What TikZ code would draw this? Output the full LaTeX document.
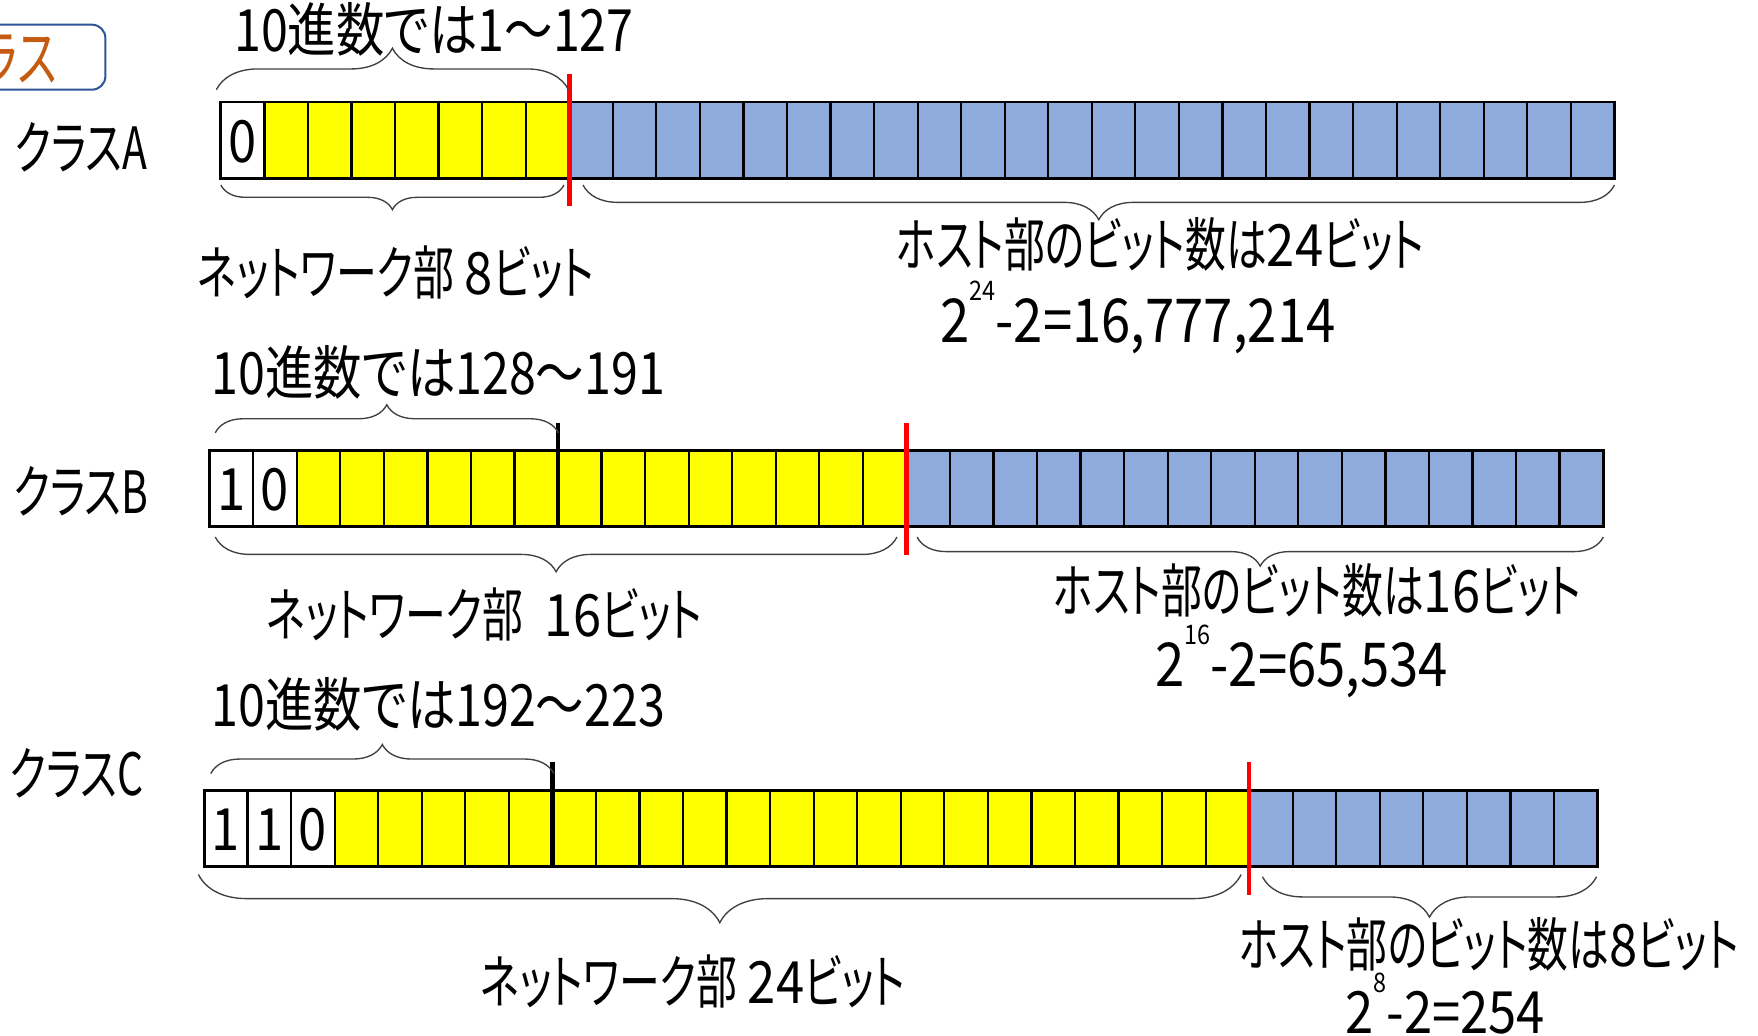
\documentclass[tikz,border=0pt]{standalone}
\usepackage{fontspec}
\setmainfont{Noto Sans CJK JP}[FakeStretch=0.83,RawFeature=+palt]
\newfontfamily\kfont{Noto Sans CJK JP}[FakeStretch=0.70,RawFeature=+palt]
\newfontfamily\dfont{Noto Sans CJK JP}[FakeStretch=0.87]
\usetikzlibrary{decorations.pathreplacing}
\definecolor{hostblue}{HTML}{8FAADC}
\definecolor{netyellow}{HTML}{FFFF00}
\definecolor{boxblue}{HTML}{2F5597}
\definecolor{tagorange}{HTML}{C55A11}
\newcommand\bitrow[5]{%
  \foreach \i in {0,...,31}{%
    \ifnum\i<#4 \def\cc{white}\else\ifnum\i<#5 \def\cc{netyellow}\else\def\cc{hostblue}\fi\fi
    \draw[line width=1pt, fill=\cc] ({#1+\i*38.84},#2) rectangle ({#1+(\i+1)*38.84},#3);
  }
  \draw[line width=1.3pt] (#1,#2) rectangle ({#1+32*38.84},#3);
}
\newcommand\supnum[1]{\raisebox{0.7em}{\dfont\fontsize{12}{12}\selectfont #1}}
\newcommand\kt[1]{{\kfont #1}}
\newcommand\dg[1]{{\dfont #1}}
\tikzset{
  lbl/.style={font=\fontsize{26}{30}\selectfont, inner sep=0pt, anchor=center},
  cnt/.style={font=\dfont\fontsize{27}{30}\selectfont, inner sep=0pt, anchor=center},
  bit/.style={font=\dfont\fontsize{26}{30}\selectfont, inner sep=0pt, anchor=center},
  brc/.style={decorate, decoration={brace, amplitude=#1}, draw=black!75, line width=0.6pt},
  redsep/.style={draw=red, line width=2pt},
  blksep/.style={draw=black, line width=2pt}
}
\begin{document}
\begin{tikzpicture}[x=0.5pt, y=-0.5pt]
\useasboundingbox (0,0) rectangle (1568,924);
\clip (0,0) rectangle (1568,924);
\fill[white] (0,0) rectangle (1568,924);

% title tag (cut off at the left edge, as in the reference)
\draw[boxblue, line width=0.9pt, rounded corners=6pt, fill=white] (-40,22) rectangle (94,80);
\node[lbl, anchor=east, text=tagorange, font=\kfont\fontsize{28}{30}\selectfont] (tag) at (51,51) {クラス};

% ===== Class A =====
\node[lbl, font=\kfont\fontsize{26}{30}\selectfont] (clsA) at (72,131) {クラスA};
\bitrow{197}{91}{159}{1}{8}
\node[bit] (a0) at (216.4,126) {0};
\draw[redsep] (508,66) -- (508,184);
\coordinate (aTL) at (193,80); \coordinate (aTR) at (507,80);
\draw[brc=18.5pt] (aTL) -- (aTR);
\coordinate (aNL) at (197,165); \coordinate (aNR) at (503,165);
\draw[brc=11pt] (aNR) -- (aNL);
\coordinate (aHL) at (520,165); \coordinate (aHR) at (1440,165);
\draw[brc=15.5pt] (aHR) -- (aHL);
\node[lbl] (aDec) at (387,26) {10進数では1～127};
\node[lbl] (aNet) at (353,243) {\kt{ネットワーク部} \dg{8}\kt{ビット}};
\node[lbl] (aHost) at (1035,218) {\kt{ホスト部のビット数は}\dg{24}\kt{ビット}};
\node[cnt] (aCnt) at (1015,283) {2\supnum{24}-2=16,777,214};

% ===== Class B =====
\node[lbl, font=\kfont\fontsize{26}{30}\selectfont] (clsB) at (72,438) {クラスB};
\bitrow{187}{402}{470}{2}{16}
\node[bit] (b0) at (206.4,437) {1};
\node[bit] (b1) at (245.3,437) {0};
\draw[blksep] (497.7,377) -- (497.7,470);
\draw[redsep] (808.4,377) -- (808.4,495);
\coordinate (bTL) at (192,386); \coordinate (bTR) at (498,386);
\draw[brc=12.5pt] (bTL) -- (bTR);
\coordinate (bNL) at (192,479); \coordinate (bNR) at (800,479);
\draw[brc=15.5pt] (bNR) -- (bNL);
\coordinate (bHL) at (818,479); \coordinate (bHR) at (1430,479);
\draw[brc=13pt] (bHR) -- (bHL);
\node[lbl] (bDec) at (391,332) {10進数では128～191};
\node[lbl] (bNet) at (432,548) {\kt{ネットワーク部}\ \ \dg{16}\kt{ビット}};
\node[lbl] (bHost) at (1175,527) {\kt{ホスト部のビット数は}\dg{16}\kt{ビット}};
\node[cnt] (bCnt) at (1161,590) {2\supnum{16}-2=65,534};

% ===== Class C =====
\node[lbl, font=\kfont\fontsize{26}{30}\selectfont] (clsC) at (68,690) {クラスC};
\bitrow{182}{705}{773}{3}{24}
\node[bit] (c0) at (201.4,740) {1};
\node[bit] (c1) at (240.3,740) {1};
\node[bit] (c2) at (279.1,740) {0};
\draw[blksep] (492.7,680) -- (492.7,773);
\draw[redsep] (1114.2,680) -- (1114.2,798);
\coordinate (cTL) at (188,690); \coordinate (cTR) at (494,690);
\draw[brc=13pt] (cTL) -- (cTR);
\coordinate (cNL) at (177,780); \coordinate (cNR) at (1107,780);
\draw[brc=21.5pt] (cNR) -- (cNL);
\coordinate (cHL) at (1126,782); \coordinate (cHR) at (1424,782);
\draw[brc=18pt] (cHR) -- (cHL);
\node[lbl] (cDec) at (391,628) {10進数では192～223};
\node[lbl] (cNet) at (618,875) {\kt{ネットワーク部} \dg{24}\kt{ビット}};
\node[lbl] (cHost) at (1328,842) {\kt{ホスト部のビット数は}\dg{8}\kt{ビット}};
\node[cnt, font=\dfont\fontsize{26}{28}\selectfont] (cCnt) at (1289,895) {2\supnum{8}-2=254};
\end{tikzpicture}
\end{document}
